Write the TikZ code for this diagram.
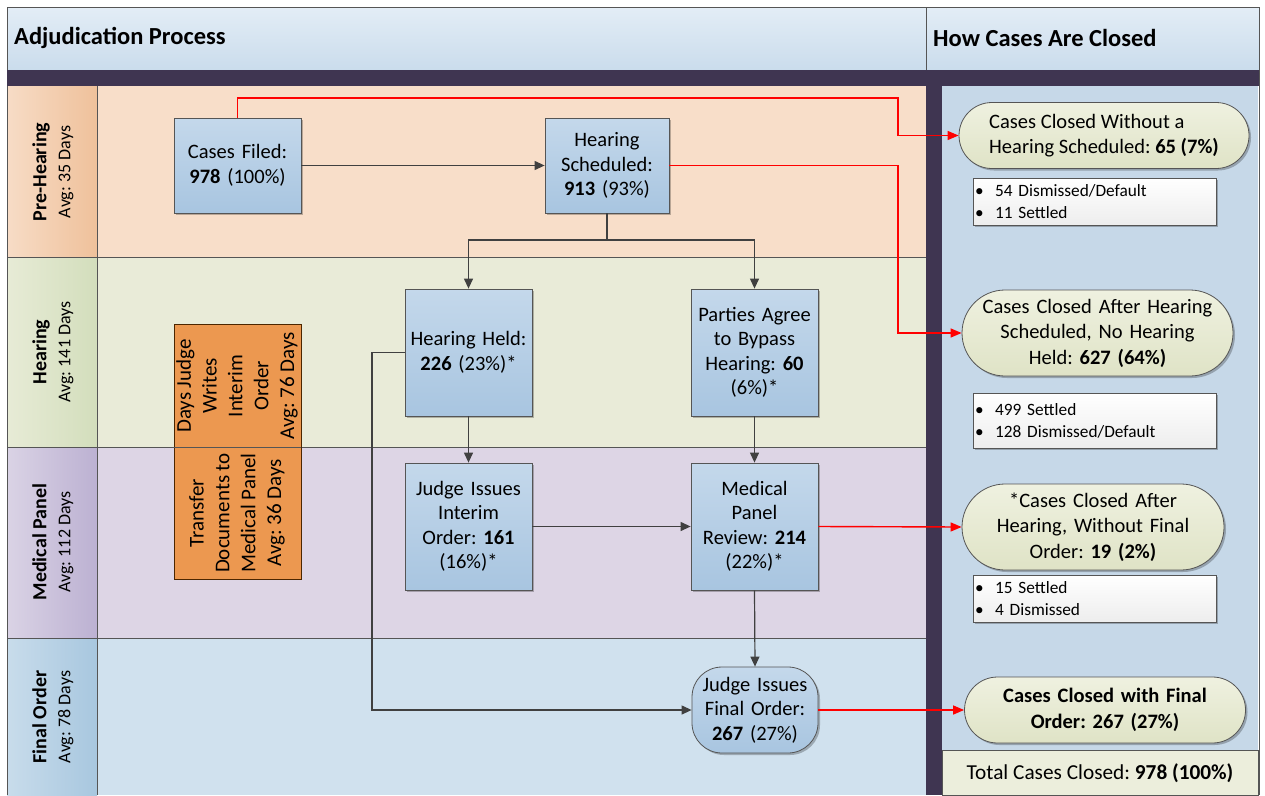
\documentclass[tikz,border=0pt]{standalone}
\usepackage{fontspec}
\setmainfont{Carlito}
\frenchspacing
\usetikzlibrary{arrows.meta,shadows}
\definecolor{hdrT}{HTML}{E3EDF6}
\definecolor{hdrB}{HTML}{CADCEC}
\definecolor{darkbar}{HTML}{3F3551}
\definecolor{preB}{HTML}{F8DEC9}
\definecolor{preL}{HTML}{F7DCC6}
\definecolor{preR}{HTML}{EFC19B}
\definecolor{heaB}{HTML}{E9EBD8}
\definecolor{heaL}{HTML}{E7EBD6}
\definecolor{heaR}{HTML}{D3DEBC}
\definecolor{medB}{HTML}{DDD5E5}
\definecolor{medL}{HTML}{DAD3E5}
\definecolor{medR}{HTML}{BCB1D2}
\definecolor{finB}{HTML}{D0E1EE}
\definecolor{finL}{HTML}{C8DCEB}
\definecolor{finR}{HTML}{A8C7DF}
\definecolor{rpanel}{HTML}{C6D8E8}
\definecolor{blueT}{HTML}{C4D8EB}
\definecolor{blueB}{HTML}{A8C5E0}
\definecolor{grnT}{HTML}{EFF1E0}
\definecolor{grnB}{HTML}{DFE3C6}
\definecolor{orng}{HTML}{EC9850}
\definecolor{totB}{HTML}{ECEEDC}
\definecolor{lineG}{HTML}{555555}
\tikzset{
  frame/.style={draw=lineG, line width=1pt},
  shad/.style={drop shadow={shadow xshift=2pt,shadow yshift=-2pt,opacity=0.25,fill=black}},
  proc/.style={draw=lineG, line width=0.8pt, top color=blueT, bottom color=blueB, align=center,
    text width=124pt, inner sep=1pt, minimum width=127pt, minimum height=127pt,
    font=\fontsize{20.5}{24.5}\selectfont, shad},
  closed/.style={draw=lineG, line width=0.8pt, top color=grnT, bottom color=grnB, align=center,
    inner sep=2pt, font=\fontsize{20.5}{25.5}\selectfont, shad},
  listbox/.style={draw=lineG, line width=0.8pt, top color=white, bottom color=black!7, align=left,
    text width=239pt, inner xsep=2pt, inner ysep=2pt, minimum width=243pt,
    font=\fontsize{17.3}{22}\selectfont, shad},
  lanelbl/.style={rotate=90, align=center, inner sep=0pt, font=\fontsize{18}{24}\selectfont},
  conn/.style={draw=black!75, line width=1.2pt, -{Triangle[length=10pt,width=9pt]}},
  redc/.style={draw=red, line width=1.4pt, -{Triangle[length=11pt,width=9pt]}},
  orgtxt/.style={rotate=90, align=center, inner sep=0pt, font=\fontsize{21}{25.8}\selectfont},
}
\newcommand{\lblA}[2]{{\fontsize{20}{24}\selectfont\bfseries #1}\\#2}
\begin{document}
\begin{tikzpicture}[x=1pt,y=-1pt]
\useasboundingbox (0,0) rectangle (1265,795);
% header band
\shade[top color=hdrT,bottom color=hdrB] (7,7) rectangle (1259,70);
\draw[frame] (7,795) -- (7,7) -- (1259,7) -- (1259,795);
\draw[frame] (926,7) -- (926,70);
\node[anchor=west, font=\fontsize{24.5}{28}\selectfont\bfseries, inner sep=0pt] (t1) at (14,38) {Adjudication Process};
\node[anchor=west, font=\fontsize{24.5}{28}\selectfont\bfseries, inner sep=0pt] (t2) at (933,38) {How Cases Are Closed};
\fill[darkbar] (7,70) rectangle (1259,86);
% lane bodies
\fill[preB] (97,86) rectangle (926,257);
\fill[heaB] (97,257) rectangle (926,447);
\fill[medB] (97,447) rectangle (926,638);
\fill[finB] (97,638) rectangle (926,795);
\shade[left color=preL,right color=preR] (7,86) rectangle (97,257);
\shade[left color=heaL,right color=heaR] (7,257) rectangle (97,447);
\shade[left color=medL,right color=medR] (7,447) rectangle (97,638);
\shade[left color=finL,right color=finR] (7,638) rectangle (97,795);
% right panel
\fill[rpanel] (942,86) rectangle (1258,795);
\fill[darkbar] (926,70) rectangle (942,795);
% lane lines
\draw[frame] (7,86) -- (7,795);
\draw[frame] (97,86) -- (97,795);
\draw[frame] (7,257) -- (926,257);
\draw[frame] (7,447) -- (926,447);
\draw[frame] (7,638) -- (926,638);
\draw[frame] (1259,7) -- (1259,795);
% lane labels
\node[lanelbl] (lbl1) at (53,172) {\lblA{Pre-Hearing}{Avg: 35 Days}};
\node[lanelbl] (lbl2) at (53,352) {\lblA{Hearing}{Avg: 141 Days}};
\node[lanelbl] (lbl3) at (53,542) {\lblA{Medical Panel}{Avg: 112 Days}};
\node[lanelbl] (lbl4) at (53,717) {\lblA{Final Order}{Avg: 78 Days}};
% orange boxes
\draw[fill=orng, draw=black!70!orange, line width=1pt] (174,324) rectangle (301,579);
\draw[frame] (174,447) -- (301,447);
\node[orgtxt] (o1) at (237,386) {Days Judge\\Writes\\Interim\\Order\\Avg: 76 Days};
\node[orgtxt] (o2) at (237,513) {Transfer\\Documents to\\Medical Panel\\Avg: 36 Days};
% process nodes
\node[proc, minimum height=95pt] (cf) at (237.5,165.5) {Cases Filed:\\\textbf{978} (100\%)};
\node[proc, minimum height=95pt, minimum width=124pt, text width=121pt] (hs) at (607,165.5) {Hearing\\Scheduled:\\\textbf{913} (93\%)};
\node[proc] (hh) at (468.5,352.5) {Hearing Held:\\\textbf{226} (23\%)*};
\node[proc] (pa) at (754.5,352.5) {Parties Agree\\to Bypass\\Hearing: \textbf{60}\\(6\%)*};
\node[proc] (ji) at (468.5,526.5) {Judge Issues\\Interim\\Order: \textbf{161}\\(16\%)*};
\node[proc] (mp) at (754.5,526.5) {Medical\\Panel\\Review: \textbf{214}\\(22\%)*};
\node[proc, minimum height=86pt, minimum width=126pt, rounded corners=30pt] (fo) at (755,710) {Judge Issues\\Final Order:\\\textbf{267} (27\%)};
% closed nodes
\node[closed, align=left, minimum width=290pt, minimum height=66pt, rounded corners=33pt] (c1) at (1104,135.5) {Cases Closed Without a\\Hearing Scheduled: \textbf{65 (7\%)}};
\node[listbox, minimum height=47pt] (l1) at (1094.5,201.5) {\textbullet\ \ 54 Dismissed/Default\\\textbullet\ \ 11 Settled};
\node[closed, minimum width=271pt, minimum height=86pt, rounded corners=43pt, text width=255pt] (c2) at (1097.5,333) {Cases Closed After Hearing\\Scheduled, No Hearing\\Held: \textbf{627 (64\%)}};
\node[listbox, minimum height=55pt] (l2) at (1094.5,420.5) {\textbullet\ \ 499 Settled\\\textbullet\ \ 128 Dismissed/Default};
\node[closed, minimum width=262pt, minimum height=86pt, rounded corners=43pt, text width=245pt] (c3) at (1093,527) {*Cases Closed After\\Hearing, Without Final\\Order: \textbf{19 (2\%)}};
\node[listbox, minimum height=47pt] (l3) at (1094.5,598.5) {\textbullet\ \ 15 Settled\\\textbullet\ \ 4 Dismissed};
\node[closed, minimum width=281pt, minimum height=66pt, rounded corners=33pt, text width=250pt, font=\fontsize{20.5}{25.5}\selectfont\bfseries] (c4) at (1105,710) {Cases Closed with Final\\Order: 267 (27\%)};
\draw[fill=totB, draw=lineG, line width=0.8pt] (942,750) rectangle (1258,795);
\node[font=\fontsize{21.3}{24}\selectfont, inner sep=0pt] (tot) at (1100,773) {Total Cases Closed: \textbf{978 (100\%)}};
% connectors
\coordinate (r1) at (898,98);
\coordinate (r2) at (898,165.5);
\coordinate (hb) at (607,240);
\coordinate (lft) at (372,352.5);
\draw[conn] (cf.east) -- (hs.west);
\draw[redc] (cf.north) |- (r1) |- (c1.west);
\draw[redc] (hs.east) -- (r2) |- (c2.west);
\draw[conn] (hs.south) -- (hb) -| (hh.north);
\draw[conn] (hb) -| (pa.north);
\draw[conn] (hh.south) -- (ji.north);
\draw[conn] (pa.south) -- (mp.north);
\draw[conn] (ji.east) -- (mp.west);
\draw[redc] (mp.east) -- (c3.west);
\draw[conn] (mp.south) -- (fo.north);
\draw[conn] (hh.west) -- (lft) |- (fo.west);
\draw[redc] (fo.east) -- (c4.west);
\end{tikzpicture}
\end{document}
